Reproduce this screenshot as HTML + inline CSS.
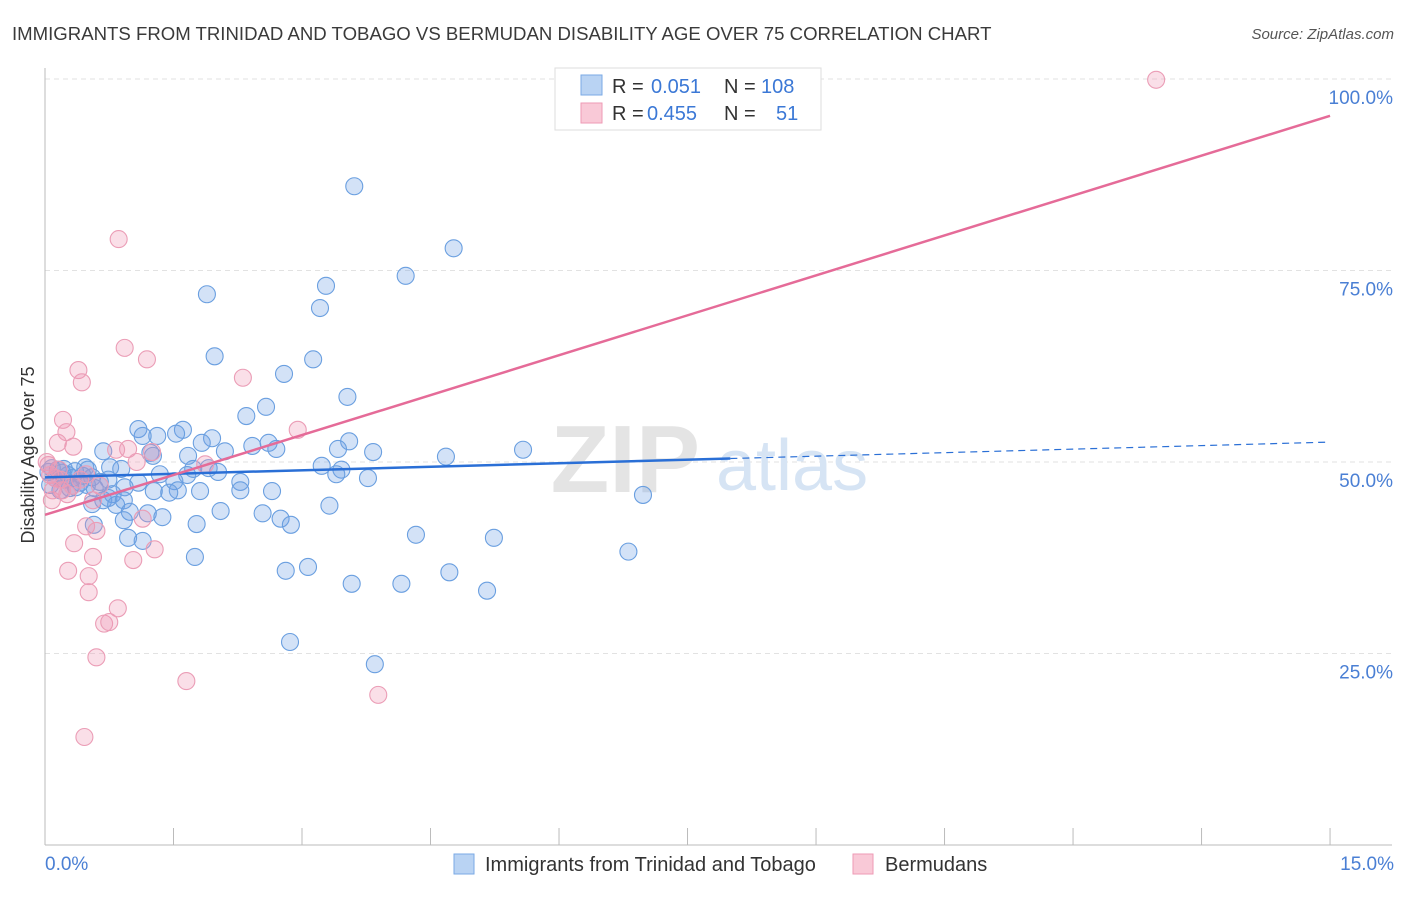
<!DOCTYPE html>
<html><head><meta charset="utf-8"><style>
body{margin:0;background:#fff;font-family:"Liberation Sans",sans-serif}
svg text{font-family:"Liberation Sans",sans-serif}
</style></head><body>
<svg id="chart" width="1406" height="892">
<text x="12" y="40" font-size="18.6" fill="#3a3a3a">IMMIGRANTS FROM TRINIDAD AND TOBAGO VS BERMUDAN DISABILITY AGE OVER 75 CORRELATION CHART</text>
<text x="1394" y="39" font-size="15" fill="#555" text-anchor="end" font-style="italic">Source: ZipAtlas.com</text>
<g id="grid"></g>
<text x="700" y="492" font-size="96" fill="#e4e4e4" text-anchor="end" font-family="Liberation Serif" font-weight="bold">ZIP</text>
<text x="716" y="490" font-size="72" fill="#d6e4f4">atlas</text>
<text transform="translate(34,455) rotate(-90)" font-size="18" fill="#333" text-anchor="middle">Disability Age Over 75</text>
<g id="pts"></g>
<g id="lines"></g>
<g>
<rect x="555" y="68" width="266" height="62" fill="#fff" stroke="#ddd"/>
<rect x="581" y="75" width="21" height="20" fill="#b9d3f3" stroke="#7aaae6"/>
<rect x="581" y="103" width="21" height="20" fill="#f9c9d7" stroke="#ee9ab4"/>
<text x="612" y="93" font-size="20" fill="#333">R = </text>
<text x="651" y="93" font-size="20" fill="#3b78d6">0.051</text>
<text x="724" y="93" font-size="20" fill="#333">N = </text>
<text x="761" y="93" font-size="20" fill="#3b78d6">108</text>
<text x="612" y="120" font-size="20" fill="#333">R = </text>
<text x="647" y="120" font-size="20" fill="#3b78d6">0.455</text>
<text x="724" y="120" font-size="20" fill="#333">N = </text>
<text x="776" y="120" font-size="20" fill="#3b78d6">51</text>
</g>
<g>
<rect x="454" y="854" width="20" height="20" fill="#b9d3f3" stroke="#7aaae6"/>
<text x="485" y="871" font-size="20" fill="#333">Immigrants from Trinidad and Tobago</text>
<rect x="853" y="854" width="20" height="20" fill="#f9c9d7" stroke="#ee9ab4"/>
<text x="885" y="871" font-size="20" fill="#333">Bermudans</text>
</g>
</svg>
<script>
const blueX=[3.61,4.77,4.21,1.89,3.28,3.21,1.98,3.13,2.79,3.53,2.35,2.58,1.09,1.61,1.31,1.14,1.95,1.53,3.55,2.61,2.42,2.70,2.10,1.83,0.68,1.23,3.42,3.83,4.68,5.58,1.67,1.26,3.23,3.46,3.40,3.77,0.76,0.89,0.47,0.20,0.35,0.55,0.74,1.34,1.66,1.51,2.02,1.91,1.73,1.09,2.28,1.55,1.45,1.27,1.81,2.28,2.65,0.93,0.79,0.68,0.74,0.55,0.83,0.92,0.99,1.20,1.37,2.05,2.54,2.75,2.87,3.32,0.92,0.57,1.77,0.97,1.14,1.75,4.33,5.24,6.81,6.98,2.81,3.07,3.58,4.16,4.72,5.16,2.86,3.85,0.12,0.06,0.23,0.29,0.15,0.41,0.04,0.27,0.08,0.49,0.58,0.18,0.32,0.44,0.64,0.36,0.22,0.50];
const blueY=[86.0,77.9,74.3,71.9,73.0,70.1,63.8,63.4,61.5,58.5,56.0,57.2,54.3,54.2,53.4,53.4,53.1,53.7,52.7,52.5,52.1,51.7,51.4,52.5,51.4,51.2,51.7,51.3,50.7,51.6,50.8,50.8,49.5,49.0,48.4,47.9,49.3,49.1,49.3,48.6,48.8,48.0,47.7,48.4,48.3,47.5,48.7,49.2,49.1,47.3,47.4,46.3,46.0,46.2,46.2,46.3,46.2,46.7,45.8,45.0,45.3,44.5,44.4,45.0,43.5,43.3,42.8,43.6,43.3,42.6,41.8,44.3,42.4,41.8,41.9,40.1,39.7,37.6,40.5,40.1,38.3,45.7,35.8,36.3,34.1,34.1,35.6,33.2,26.5,23.6,47.9,47.0,47.7,46.6,49.0,47.3,48.7,48.3,49.2,47.0,46.6,46.3,47.9,48.2,47.4,46.7,49.1,49.0];
const pinkX=[12.97,0.86,0.93,1.19,2.31,0.39,0.43,0.21,0.25,2.95,0.15,0.33,0.97,0.83,1.25,1.07,0.16,0.04,0.12,0.20,0.08,0.26,0.32,0.41,0.48,0.64,0.56,1.87,1.14,0.48,0.60,0.34,1.28,0.56,1.03,0.27,0.51,0.51,0.85,0.69,0.75,0.60,1.65,3.89,0.46,0.02,0.06,0.18,0.09];
const pinkY=[99.9,79.1,64.9,63.4,61.0,62.0,60.4,55.5,53.9,54.2,52.5,52.0,51.7,51.6,51.3,50.0,49.0,49.6,47.9,46.3,45.0,45.8,46.9,47.7,48.4,46.9,45.0,49.7,42.6,41.6,41.0,39.4,38.6,37.6,37.2,35.8,35.1,33.0,30.9,28.9,29.1,24.5,21.4,19.6,14.1,50.0,48.3,47.7,46.3];
const blueTrend=[48.0,52.6]; const blueSolidEnd=8.0;
const pinkTrend=[43.1,95.2];
const yTicks=[25,50,75,100];
const yTickLabels=["25.0%","50.0%","75.0%","100.0%"];
const xTicks=[0,1.5,3,4.5,6,7.5,9,10.5,12,13.5,15];

const X=v=>45+v*85.67, Y=v=>845-v*7.66;
const NS="http://www.w3.org/2000/svg";
function mk(tag,attrs,parent){const e=document.createElementNS(NS,tag);for(const k in attrs)e.setAttribute(k,attrs[k]);parent.appendChild(e);return e;}
const grid=document.getElementById('grid');
yTicks.forEach((t,i)=>{
  const l=mk('line',{x1:45,x2:1392,y1:Y(t),y2:Y(t),stroke:'#e2e2e2','stroke-dasharray':'5,4'},grid);
  
  
  const tx=mk('text',{x:1393,y:Y(t)+25,'font-size':19,fill:'#4a7fd4','text-anchor':'end'},grid);
  tx.textContent=yTickLabels[i];
  
  
});
const ax=mk('line',{x1:45,x2:45,y1:68,y2:845,stroke:'#bbb'},grid);


const bx=mk('line',{x1:45,x2:1392,y1:845,y2:845,stroke:'#bbb'},grid);


xTicks.forEach(t=>{
  const l=mk('line',{x1:X(t),x2:X(t),y1:828,y2:845,stroke:'#bbb'},grid);
  
  
});
const t0=mk('text',{x:45,y:870,'font-size':19,fill:'#4a7fd4'},grid);t0.textContent='0.0%';


const t1=mk('text',{x:1394,y:870,'font-size':19,fill:'#4a7fd4','text-anchor':'end'},grid);t1.textContent='15.0%';


const pts=document.getElementById('pts');
blueX.forEach((x,i)=>{
  const c=mk('circle',{cx:X(x),cy:Y(blueY[i]),r:8.5,fill:'rgba(110,160,228,0.3)',stroke:'#6a9fe0','stroke-width':1.1},pts);
  
  
});
pinkX.forEach((x,i)=>{
  const c=mk('circle',{cx:X(x),cy:Y(pinkY[i]),r:8.5,fill:'rgba(240,150,180,0.3)',stroke:'#eb9db6','stroke-width':1.1},pts);
  
  
});
const lines=document.getElementById('lines');
const by=x=>blueTrend[0]+(blueTrend[1]-blueTrend[0])*x/15;
const bl=mk('line',{x1:X(0),y1:Y(by(0)),x2:X(blueSolidEnd),y2:Y(by(blueSolidEnd)),stroke:'#2a6fd6','stroke-width':2.5},lines);


const bd=mk('line',{x1:X(blueSolidEnd),y1:Y(by(blueSolidEnd)),x2:X(15),y2:Y(by(15)),stroke:'#2a6fd6','stroke-width':1.2,'stroke-dasharray':'7,5'},lines);


const pl=mk('line',{x1:X(0),y1:Y(pinkTrend[0]),x2:X(15),y2:Y(pinkTrend[1]),stroke:'#e56b98','stroke-width':2.5},lines);


</script>
</body></html>
